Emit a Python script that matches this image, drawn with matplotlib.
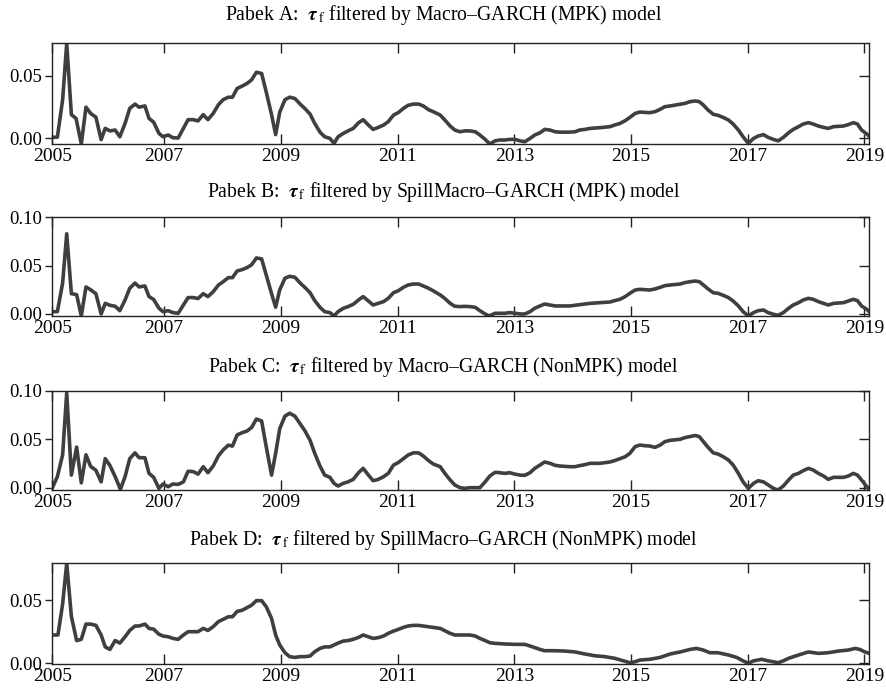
"""Filtered tau_f series from the four Macro-GARCH variants, stacked panels."""

import matplotlib
matplotlib.use("Agg")
import matplotlib.pyplot as plt
import numpy as np

LINE = "#3f3f3f"
SPINE = "#222222"

# panel A: Macro-GARCH (MPK)
a_year = [2005.08, 2005.17, 2005.26, 2005.33, 2005.41, 2005.49, 2005.58, 2005.66, 2005.74, 2005.83,
          2005.92, 2005.99, 2006.07, 2006.16, 2006.24, 2006.33, 2006.41, 2006.50, 2006.57, 2006.67,
          2006.74, 2006.82, 2006.91, 2006.98, 2007.07, 2007.15, 2007.24, 2007.33, 2007.41, 2007.50,
          2007.58, 2007.67, 2007.75, 2007.84, 2007.93, 2008.01, 2008.10, 2008.17, 2008.25, 2008.34,
          2008.42, 2008.50, 2008.58, 2008.67, 2008.75, 2008.84, 2008.91, 2008.98, 2009.07, 2009.15,
          2009.24, 2009.33, 2009.41, 2009.50, 2009.58, 2009.67, 2009.75, 2009.84, 2009.91, 2009.98,
          2010.07, 2010.15, 2010.24, 2010.33, 2010.41, 2010.50, 2010.58, 2010.67, 2010.76, 2010.84,
          2010.93, 2011.01, 2011.10, 2011.18, 2011.27, 2011.36, 2011.44, 2011.53, 2011.61, 2011.73,
          2011.81, 2011.90, 2011.98, 2012.07, 2012.15, 2012.24, 2012.33, 2012.41, 2012.50, 2012.58,
          2012.67, 2012.75, 2012.84, 2012.92, 2013.01, 2013.10, 2013.18, 2013.27, 2013.35, 2013.44,
          2013.52, 2013.61, 2013.70, 2013.78, 2013.95, 2014.04, 2014.12, 2014.21, 2014.30, 2014.47,
          2014.64, 2014.72, 2014.81, 2014.90, 2014.98, 2015.07, 2015.15, 2015.32, 2015.41, 2015.50,
          2015.58, 2015.67, 2015.84, 2015.92, 2016.01, 2016.10, 2016.17, 2016.24, 2016.32, 2016.41,
          2016.49, 2016.58, 2016.67, 2016.75, 2016.84, 2016.92, 2017.01, 2017.10, 2017.18, 2017.27,
          2017.35, 2017.44, 2017.52, 2017.61, 2017.70, 2017.78, 2017.87, 2017.95, 2018.04, 2018.12,
          2018.21, 2018.30, 2018.38, 2018.47, 2018.64, 2018.72, 2018.81, 2018.88, 2018.95, 2019.04,
          2019.08]
a_tau = [0.0008, 0.001, 0.031, 0.076, 0.019, 0.016, -0.0045, 0.025, 0.020, 0.017,
         -0.001, 0.008, 0.006, 0.0067, 0.0013, 0.012, 0.024, 0.0275, 0.025, 0.026,
         0.016, 0.013, 0.004, 0.0013, 0.0027, 0.0005, 0.0003, 0.008, 0.015, 0.015,
         0.014, 0.019, 0.015, 0.020, 0.027, 0.031, 0.033, 0.033, 0.040, 0.042,
         0.044, 0.047, 0.053, 0.052, 0.037, 0.019, 0.003, 0.021, 0.031, 0.033,
         0.032, 0.0275, 0.024, 0.0195, 0.012, 0.005, 0.0013, 0.000, -0.004, 0.0013,
         0.004, 0.006, 0.008, 0.0125, 0.015, 0.0107, 0.0072, 0.0088, 0.0107, 0.0134,
         0.0187, 0.0206, 0.024, 0.0265, 0.0275, 0.0275, 0.026, 0.023, 0.0214, 0.0187,
         0.0147, 0.0099, 0.0067, 0.0053, 0.006, 0.006, 0.0053, 0.0027, -0.0008, -0.0045,
         -0.002, -0.0013, -0.0013, -0.0008, -0.0008, -0.002, -0.0027, 0.000, 0.0027, 0.0045,
         0.0072, 0.0067, 0.0053, 0.005, 0.005, 0.0053, 0.0067, 0.0072, 0.008, 0.0086,
         0.0094, 0.0107, 0.012, 0.0142, 0.0168, 0.020, 0.0211, 0.0206, 0.0214, 0.0233,
         0.0254, 0.026, 0.0273, 0.028, 0.0294, 0.030, 0.0294, 0.0267, 0.0227, 0.0193,
         0.0185, 0.0168, 0.0147, 0.0115, 0.0067, 0.0013, -0.004, 0.000, 0.0019, 0.003,
         0.0008, -0.0008, -0.002, 0.0008, 0.0045, 0.0072, 0.0094, 0.0115, 0.0126, 0.0115,
         0.0099, 0.0088, 0.008, 0.0094, 0.0099, 0.011, 0.0126, 0.0115, 0.0067, 0.0035,
         0.0019]

# panel B: SpillMacro-GARCH (MPK)
b_year = [2005.08, 2005.17, 2005.26, 2005.33, 2005.41, 2005.50, 2005.58, 2005.66, 2005.74, 2005.83,
          2005.92, 2005.99, 2006.07, 2006.16, 2006.24, 2006.33, 2006.41, 2006.50, 2006.57, 2006.67,
          2006.74, 2006.82, 2006.91, 2006.98, 2007.07, 2007.15, 2007.24, 2007.33, 2007.41, 2007.50,
          2007.58, 2007.67, 2007.75, 2007.84, 2007.93, 2008.01, 2008.10, 2008.17, 2008.25, 2008.34,
          2008.42, 2008.50, 2008.58, 2008.67, 2008.75, 2008.84, 2008.91, 2008.98, 2009.07, 2009.15,
          2009.24, 2009.33, 2009.41, 2009.50, 2009.58, 2009.67, 2009.75, 2009.84, 2009.91, 2009.98,
          2010.07, 2010.15, 2010.24, 2010.33, 2010.41, 2010.50, 2010.58, 2010.67, 2010.76, 2010.84,
          2010.93, 2011.01, 2011.10, 2011.18, 2011.27, 2011.36, 2011.44, 2011.53, 2011.61, 2011.73,
          2011.81, 2011.90, 2011.98, 2012.07, 2012.15, 2012.24, 2012.33, 2012.41, 2012.50, 2012.57,
          2012.67, 2012.75, 2012.84, 2012.92, 2013.01, 2013.10, 2013.18, 2013.27, 2013.35, 2013.44,
          2013.52, 2013.61, 2013.70, 2013.95, 2014.04, 2014.12, 2014.21, 2014.30, 2014.47, 2014.64,
          2014.72, 2014.81, 2014.90, 2014.98, 2015.07, 2015.15, 2015.32, 2015.41, 2015.50, 2015.58,
          2015.67, 2015.84, 2015.92, 2016.01, 2016.10, 2016.17, 2016.24, 2016.32, 2016.41, 2016.49,
          2016.58, 2016.67, 2016.75, 2016.84, 2016.92, 2017.01, 2017.10, 2017.18, 2017.27, 2017.35,
          2017.44, 2017.52, 2017.61, 2017.70, 2017.78, 2017.87, 2017.95, 2018.04, 2018.12, 2018.21,
          2018.30, 2018.38, 2018.47, 2018.64, 2018.72, 2018.81, 2018.88, 2018.95, 2019.04, 2019.08]
b_tau = [0.0024, 0.0024, 0.032, 0.083, 0.021, 0.020, -0.002, 0.028, 0.025, 0.021,
         0.000, 0.011, 0.009, 0.008, 0.0034, 0.0145, 0.0266, 0.032, 0.028, 0.029,
         0.018, 0.015, 0.006, 0.0024, 0.0034, 0.0014, 0.0007, 0.0093, 0.017, 0.017,
         0.016, 0.021, 0.018, 0.023, 0.030, 0.0334, 0.0376, 0.0376, 0.0445, 0.046,
         0.048, 0.051, 0.058, 0.057, 0.040, 0.021, 0.007, 0.025, 0.037, 0.039,
         0.038, 0.032, 0.0276, 0.022, 0.0138, 0.0069, 0.0024, 0.0014, -0.002, 0.0024,
         0.0059, 0.0076, 0.010, 0.0145, 0.018, 0.0134, 0.0093, 0.011, 0.0128, 0.0162,
         0.022, 0.024, 0.0276, 0.030, 0.031, 0.031, 0.029, 0.0266, 0.024, 0.0197,
         0.016, 0.011, 0.008, 0.0076, 0.0079, 0.0076, 0.0069, 0.0034, 0.000, -0.002,
         0.0007, 0.0007, 0.0007, 0.0014, 0.0007, 0.000, 0.000, 0.0024, 0.0059, 0.0083,
         0.0103, 0.0093, 0.0083, 0.0083, 0.009, 0.0097, 0.0103, 0.011, 0.0117, 0.0124,
         0.0138, 0.0152, 0.018, 0.0214, 0.0248, 0.0255, 0.0248, 0.0259, 0.0276, 0.0293,
         0.030, 0.031, 0.0324, 0.0334, 0.0341, 0.0334, 0.030, 0.0259, 0.022, 0.0214,
         0.0193, 0.0169, 0.0134, 0.0083, 0.0024, -0.002, 0.0014, 0.0034, 0.0041, 0.0014,
         -0.0003, -0.0014, 0.0014, 0.0059, 0.0093, 0.0117, 0.0145, 0.0162, 0.0152, 0.0128,
         0.011, 0.0093, 0.011, 0.0117, 0.0134, 0.0152, 0.0138, 0.0083, 0.0048, 0.0024]

# panel C: Macro-GARCH (NonMPK)
c_year = [2005.08, 2005.17, 2005.26, 2005.33, 2005.41, 2005.50, 2005.58, 2005.66, 2005.74, 2005.83,
          2005.92, 2005.99, 2006.07, 2006.16, 2006.25, 2006.33, 2006.41, 2006.50, 2006.57, 2006.67,
          2006.74, 2006.82, 2006.91, 2006.98, 2007.07, 2007.15, 2007.24, 2007.33, 2007.41, 2007.50,
          2007.58, 2007.67, 2007.75, 2007.84, 2007.93, 2008.01, 2008.10, 2008.17, 2008.25, 2008.34,
          2008.42, 2008.50, 2008.58, 2008.67, 2008.75, 2008.84, 2008.91, 2008.98, 2009.07, 2009.15,
          2009.24, 2009.33, 2009.41, 2009.50, 2009.58, 2009.67, 2009.75, 2009.84, 2009.91, 2009.98,
          2010.07, 2010.15, 2010.24, 2010.33, 2010.41, 2010.50, 2010.58, 2010.67, 2010.76, 2010.84,
          2010.93, 2011.01, 2011.10, 2011.18, 2011.27, 2011.36, 2011.44, 2011.53, 2011.61, 2011.73,
          2011.81, 2011.90, 2011.98, 2012.07, 2012.15, 2012.24, 2012.33, 2012.41, 2012.50, 2012.58,
          2012.67, 2012.75, 2012.84, 2012.92, 2013.01, 2013.10, 2013.18, 2013.27, 2013.35, 2013.44,
          2013.52, 2013.61, 2013.70, 2013.78, 2013.95, 2014.04, 2014.12, 2014.21, 2014.30, 2014.47,
          2014.64, 2014.72, 2014.81, 2014.90, 2014.98, 2015.07, 2015.15, 2015.24, 2015.32, 2015.41,
          2015.50, 2015.58, 2015.67, 2015.84, 2015.92, 2016.01, 2016.10, 2016.17, 2016.24, 2016.32,
          2016.41, 2016.49, 2016.58, 2016.67, 2016.75, 2016.84, 2016.92, 2017.01, 2017.10, 2017.18,
          2017.27, 2017.35, 2017.44, 2017.52, 2017.61, 2017.70, 2017.78, 2017.87, 2017.95, 2018.04,
          2018.12, 2018.21, 2018.30, 2018.38, 2018.47, 2018.64, 2018.72, 2018.81, 2018.88, 2018.95,
          2019.04, 2019.08]
c_tau = [-0.0007, 0.0114, 0.034, 0.098, 0.013, 0.042, 0.005, 0.034, 0.022, 0.018,
         0.006, 0.030, 0.023, 0.0114, -0.0017, 0.0114, 0.030, 0.036, 0.031, 0.031,
         0.0148, 0.0107, -0.0007, 0.0038, 0.001, 0.0038, 0.0034, 0.006, 0.017, 0.0166,
         0.014, 0.0217, 0.0155, 0.0224, 0.033, 0.039, 0.044, 0.043, 0.0545, 0.057,
         0.0586, 0.0624, 0.071, 0.069, 0.042, 0.013, 0.0355, 0.061, 0.074, 0.077,
         0.074, 0.066, 0.059, 0.049, 0.0355, 0.0224, 0.013, 0.0107, 0.0045, 0.0017,
         0.0045, 0.006, 0.0086, 0.0155, 0.020, 0.013, 0.0072, 0.0086, 0.0114, 0.0148,
         0.0234, 0.0259, 0.030, 0.0338, 0.036, 0.036, 0.0328, 0.028, 0.0245, 0.0217,
         0.0148, 0.008, 0.0028, 0.000, -0.0007, 0.000, 0.000, 0.000, 0.006, 0.012,
         0.0159, 0.0155, 0.0148, 0.0155, 0.014, 0.013, 0.0128, 0.0155, 0.020, 0.0234,
         0.0266, 0.0252, 0.0231, 0.0224, 0.0217, 0.0217, 0.0228, 0.0238, 0.0252, 0.0252,
         0.0266, 0.028, 0.030, 0.032, 0.0355, 0.0424, 0.0441, 0.0434, 0.0431, 0.0417,
         0.0441, 0.0476, 0.049, 0.050, 0.0517, 0.0528, 0.054, 0.0528, 0.0476, 0.0417,
         0.036, 0.0348, 0.032, 0.0286, 0.0234, 0.0148, 0.006, -0.0007, 0.0045, 0.0072,
         0.006, 0.0028, -0.0007, -0.0024, 0.0017, 0.008, 0.013, 0.0148, 0.0176, 0.020,
         0.0183, 0.0148, 0.012, 0.0086, 0.0107, 0.0107, 0.012, 0.0148, 0.013, 0.008,
         0.001, -0.0017]

# panel D: SpillMacro-GARCH (NonMPK)
d_year = [2005.08, 2005.18, 2005.26, 2005.33, 2005.41, 2005.50, 2005.58, 2005.66, 2005.74, 2005.83,
          2005.92, 2005.99, 2006.07, 2006.16, 2006.24, 2006.33, 2006.41, 2006.50, 2006.57, 2006.67,
          2006.74, 2006.82, 2006.91, 2006.98, 2007.07, 2007.15, 2007.24, 2007.33, 2007.41, 2007.50,
          2007.58, 2007.67, 2007.75, 2007.84, 2007.93, 2008.01, 2008.10, 2008.17, 2008.25, 2008.34,
          2008.42, 2008.50, 2008.58, 2008.67, 2008.75, 2008.84, 2008.91, 2008.98, 2009.07, 2009.15,
          2009.24, 2009.33, 2009.41, 2009.50, 2009.58, 2009.67, 2009.75, 2009.84, 2009.91, 2009.98,
          2010.07, 2010.15, 2010.24, 2010.33, 2010.41, 2010.50, 2010.58, 2010.67, 2010.76, 2010.84,
          2010.93, 2011.01, 2011.10, 2011.18, 2011.27, 2011.36, 2011.44, 2011.53, 2011.61, 2011.73,
          2011.81, 2011.90, 2011.98, 2012.07, 2012.24, 2012.33, 2012.41, 2012.50, 2012.58, 2012.67,
          2012.84, 2013.01, 2013.18, 2013.27, 2013.44, 2013.52, 2013.70, 2013.87, 2014.04, 2014.21,
          2014.38, 2014.55, 2014.72, 2014.87, 2014.98, 2015.07, 2015.15, 2015.32, 2015.50, 2015.67,
          2015.84, 2016.01, 2016.12, 2016.24, 2016.35, 2016.49, 2016.67, 2016.81, 2016.92, 2017.01,
          2017.10, 2017.24, 2017.35, 2017.52, 2017.61, 2017.70, 2017.87, 2018.04, 2018.21, 2018.38,
          2018.55, 2018.72, 2018.84, 2018.92, 2019.00, 2019.08]
d_tau = [0.0224, 0.0224, 0.047, 0.079, 0.037, 0.018, 0.019, 0.031, 0.031, 0.030,
         0.0224, 0.013, 0.011, 0.018, 0.016, 0.021, 0.026, 0.0295, 0.0295, 0.031,
         0.0276, 0.027, 0.023, 0.0216, 0.021, 0.0197, 0.019, 0.0224, 0.025, 0.025,
         0.025, 0.0276, 0.026, 0.029, 0.033, 0.0347, 0.0368, 0.0368, 0.041, 0.042,
         0.044, 0.046, 0.0495, 0.0495, 0.0447, 0.0355, 0.0224, 0.0145, 0.0084, 0.0053,
         0.0047, 0.0053, 0.0053, 0.0058, 0.0092, 0.0118, 0.013, 0.013, 0.0145, 0.016,
         0.0176, 0.018, 0.019, 0.0205, 0.0224, 0.021, 0.0197, 0.0203, 0.0216, 0.0237,
         0.0255, 0.0268, 0.0284, 0.0295, 0.030, 0.030, 0.0295, 0.029, 0.0284, 0.0276,
         0.0258, 0.0237, 0.0224, 0.0224, 0.0224, 0.0216, 0.0197, 0.018, 0.0163, 0.0158,
         0.0153, 0.015, 0.015, 0.0137, 0.011, 0.010, 0.010, 0.0097, 0.009, 0.0074,
         0.006, 0.0053, 0.004, 0.002, 0.0005, 0.0013, 0.0026, 0.0032, 0.0047, 0.0074,
         0.009, 0.011, 0.0118, 0.0105, 0.0084, 0.0084, 0.0066, 0.0047, 0.002, 0.000,
         0.002, 0.0032, 0.002, 0.0005, 0.002, 0.004, 0.0066, 0.009, 0.0079, 0.0084,
         0.0097, 0.0105, 0.0118, 0.011, 0.0092, 0.0079]

titles = [
    r"Pabek A:  $\boldsymbol{\tau}_{\,\mathrm{f}}$ filtered by Macro–GARCH (MPK) model",
    r"Pabek B:  $\boldsymbol{\tau}_{\,\mathrm{f}}$ filtered by SpillMacro–GARCH (MPK) model",
    r"Pabek C:  $\boldsymbol{\tau}_{\,\mathrm{f}}$ filtered by Macro–GARCH (NonMPK) model",
    r"Pabek D:  $\boldsymbol{\tau}_{\,\mathrm{f}}$ filtered by SpillMacro–GARCH (NonMPK) model",
]
y_ticks = [[0.0, 0.05], [0.0, 0.05, 0.10], [0.0, 0.05, 0.10], [0.0, 0.05]]
y_limits = [(-0.0045, 0.0762), (-0.0021, 0.1007), (-0.0024, 0.1003), (-0.0005, 0.079)]
year_labels = ["2005", "2007", "2009", "2011", "2013", "2015", "2017", "2019"]

plt.rcParams.update({
    "font.family": ["Liberation Serif", "DejaVu Serif"],
    "mathtext.fontset": "stix",
    "font.size": 14,
    "axes.linewidth": 1.0,
    "axes.edgecolor": SPINE,
})

W, H = 887, 694
fig = plt.figure(figsize=(W / 100, H / 100), dpi=100)

# axes boxes in pixels: (top, bottom)
boxes = [(43.3, 144.0), (216.7, 316.0), (390.7, 490.0), (563.3, 664.0)]
title_y = [15, 192, 367, 540]
left_px, right_px = 52.3, 869.3

series = [(a_year, a_tau), (b_year, b_tau), (c_year, c_tau), (d_year, d_tau)]
x_lo, x_hi = 2005.083, 2019.083
x_ticks = [x_lo] + [2007, 2009, 2011, 2013, 2015, 2017, 2019]

for k, ((top, bot), (yrs, vals)) in enumerate(zip(boxes, series)):
    ax = fig.add_axes([left_px / W, 1 - bot / H, (right_px - left_px) / W, (bot - top) / H])
    ax.plot(yrs, vals, color=LINE, linewidth=2.6, solid_joinstyle="round")
    ax.set_xlim(x_lo, x_hi)
    ax.set_ylim(*y_limits[k])
    ax.set_xticks(x_ticks)
    ax.set_xticklabels(year_labels)
    ax.set_yticks(y_ticks[k])
    ax.set_yticklabels([f"{t:.2f}" for t in y_ticks[k]], fontsize=13.5)
    ax.tick_params(axis="x", direction="in", top=True, bottom=True, length=7, width=1.0,
                   pad=3, color=SPINE)
    ax.tick_params(axis="y", direction="out", left=True, right=False, length=5, width=1.0,
                   pad=2, color=SPINE)
    # mirrored y ticks on the right point inward
    sec = ax.secondary_yaxis("right")
    sec.set_yticks(y_ticks[k])
    sec.tick_params(direction="in", length=7, width=1.0, labelright=False, color=SPINE)
    sec.spines["right"].set_visible(False)
    fig.text(0.5, 1 - title_y[k] / H, titles[k], ha="center", va="center", fontsize=14.2)

fig.savefig("out.png", dpi=100)
